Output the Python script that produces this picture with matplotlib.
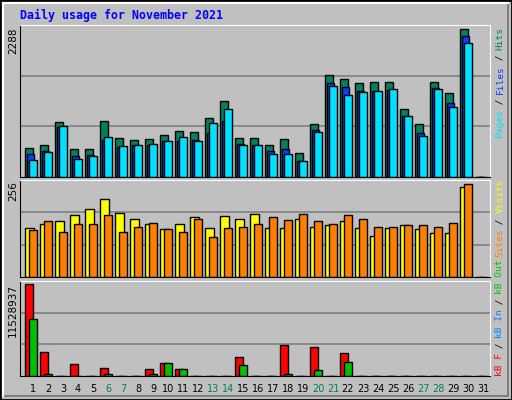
import matplotlib
matplotlib.use("Agg")
import matplotlib.pyplot as plt
from matplotlib.patches import Rectangle
from matplotlib.lines import Line2D
import numpy as np

days = list(range(1, 32))
hits = [456,502,859,440,440,875,611,580,595,657,720,704,921,1185,611,611,502,595,378,828,1574,1512,1449,1465,1465,1061,828,1465,1294,2288,0]
files = [362,409,776,331,347,580,471,502,502,564,564,580,688,875,518,502,409,440,254,735,1449,1387,1325,1325,1341,952,688,1372,1139,2179,0]
pages = [269,393,797,285,331,626,487,502,518,564,626,564,844,1061,502,502,362,362,254,704,1403,1263,1310,1325,1356,952,642,1356,1077,2071,0]
visits = [136,147,153,170,186,214,175,159,147,131,145,164,134,167,161,173,136,136,159,139,142,153,136,114,136,142,131,122,122,248,0]
sites = [128,153,125,145,145,170,125,139,150,131,125,161,111,136,139,147,164,156,173,153,145,170,159,139,139,142,142,139,150,256,0]
kbf = [11528937,3040560,0,1520280,0,1013520,0,0,886830,1646970,886830,0,0,0,2407110,0,0,3927390,0,3674010,0,2913870,0,0,0,0,0,0,0,0,0]
kbout = [7221330,253380,0,0,0,253380,0,0,253380,1646970,886830,0,0,0,1393590,0,0,253380,0,760140,0,1773660,0,0,0,0,0,0,0,0,0]
weekend = [6,7,13,14,20,21,27,28]
max_labels = ["2288", "256", "11528937"]

W, H = 512, 400
BG = "#c0c0c0"
fig = plt.figure(figsize=(W/100, H/100), dpi=100, facecolor=BG)

def fx(x): return x / W
def fy(y): return 1 - y / H

# frame
fig.patches.append(Rectangle((0, 0), 1, 1, transform=fig.transFigure, fill=False, edgecolor="black", lw=2))
fig.add_artist(Line2D([fx(3), fx(508)], [fy(396), fy(396)], color="#808080", lw=1.5))
fig.add_artist(Line2D([fx(508), fx(508)], [fy(3), fy(396)], color="#808080", lw=1.5))
fig.add_artist(Line2D([fx(3), fx(508)], [fy(3), fy(3)], color="white", lw=1.5))
fig.add_artist(Line2D([fx(3), fx(3)], [fy(3), fy(396)], color="white", lw=1.5))

fig.text(fx(20), fy(15), "Daily usage for November 2021", color="#0000ff", family="DejaVu Sans Mono",
         fontweight="bold", fontsize=8.4, va="center", ha="left")

xl = (1 - 13/15, 1 + 470/15 - 13/15)
d = np.array(days, dtype=float)

def mkax(top, bottom, ymax):
    ax = fig.add_axes([fx(20), fy(bottom), (490-20)/W, (bottom-top)/H])
    ax.set_facecolor(BG)
    ax.set_xlim(*xl)
    ax.set_ylim(0, ymax)
    ax.set_xticks([]); ax.set_yticks([])
    for s in ["left", "bottom"]:
        ax.spines[s].set_color("black")
    for s in ["top", "right"]:
        ax.spines[s].set_color("white")
    for f in (1/3, 2/3):
        ax.axhline(ymax*f, color="#808080", lw=1.2, zorder=0)
    return ax

kw = dict(edgecolor="black", linewidth=1, align="edge")

ax1 = mkax(25, 177, 2355)
ax1.bar(d - 0.53, hits, width=0.52, color="#00805c", **kw)
ax1.bar(d - 0.40, files, width=0.48, color="#0040ff", **kw)
ax1.bar(d - 0.27, pages, width=0.51, color="#00e0ff", **kw)

ax2 = mkax(180, 277, 267)
ax2.bar(d - 0.53, visits, width=0.58, color="#ffff00", **kw)
ax2.bar(d - 0.27, sites, width=0.52, color="#ff8000", **kw)

ax3 = mkax(281, 376, 11951000)
ax3.bar(d - 0.53, kbf, width=0.51, color="#ff0000", **kw)
ax3.bar(d - 0.27, kbout, width=0.52, color="#00c000", **kw)

# left max labels
for lab, top in zip(max_labels, [27, 181, 284]):
    fig.text(fx(13), fy(top), lab, rotation=90, fontsize=7.5, ha="center", va="top", family="DejaVu Sans")

# right labels
def rlabel(pieces, start, direction):
    step = 5.5
    y = start
    seq = pieces if direction == "up" else pieces
    for txt, col in seq:
        n = len(txt)
        fig.text(fx(500), fy(y), txt, rotation=90, color=col, family="DejaVu Sans Mono",
                 fontsize=6.8, ha="center", va="bottom")
        y -= n * step

rlabel([("Pages", "#00e0ff"), (" / ", "black"), ("Files", "#0040ff"), (" / ", "black"), ("Hits", "#00805c")],
       138, "up")
rlabel([("Sites", "#ff8000"), (" / ", "black"), ("Visits", "#ffff00")], 257, "up")
rlabel([("kB F", "#ff0000"), (" / ", "black"), ("kB In", "#0080ff"), (" / ", "black"), ("kB Out", "#00c000")],
       376, "up")

# day labels
for k in days:
    col = "#00805c" if k in weekend else "black"
    fig.text(fx(33 + 15*(k-1)), fy(389), str(k), color=col, fontsize=7, ha="center", va="center",
             family="DejaVu Sans")

fig.savefig("out.png", dpi=100, facecolor=BG)
